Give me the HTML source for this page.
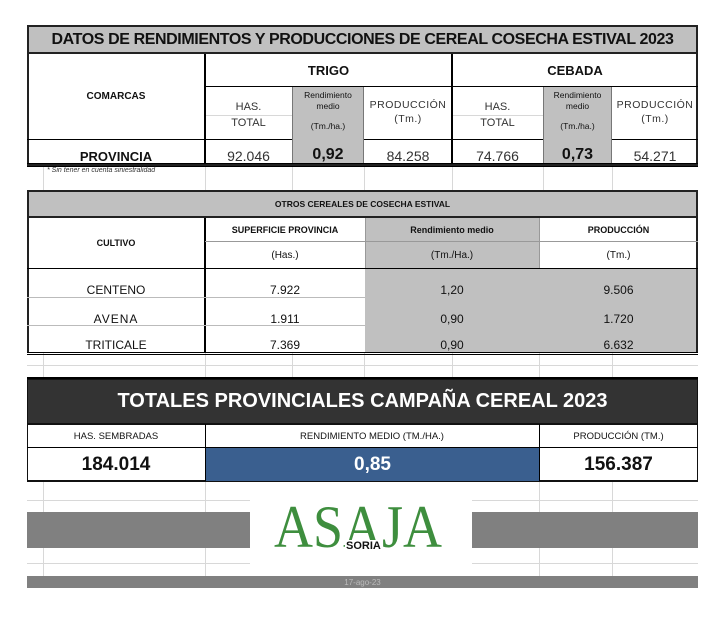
<!DOCTYPE html>
<html><head><meta charset="utf-8"><style>
body{margin:0;width:725px;height:624px;background:#fff;position:relative;font-family:"Liberation Sans",sans-serif;overflow:hidden}
div{position:absolute;box-sizing:border-box}
.c{display:flex;align-items:center;justify-content:center;text-align:center;color:#111;white-space:nowrap}
.g{background:#c0c0c0}
.vl{width:1px;background:#d8d8d8}
.hl{height:1px;background:#d8d8d8}
.bk{background:#000}
</style></head><body>
<div class="vl" style="left:205px;top:166px;height:24px"></div>
<div class="vl" style="left:292px;top:166px;height:24px"></div>
<div class="vl" style="left:364px;top:166px;height:24px"></div>
<div class="vl" style="left:452px;top:166px;height:24px"></div>
<div class="vl" style="left:543px;top:166px;height:24px"></div>
<div class="vl" style="left:612px;top:166px;height:24px"></div>
<div class="vl" style="left:43px;top:166px;height:24px"></div>
<div class="vl" style="left:43px;top:353px;height:24px"></div>
<div class="vl" style="left:205px;top:353px;height:24px"></div>
<div class="vl" style="left:292px;top:353px;height:24px"></div>
<div class="vl" style="left:364px;top:353px;height:24px"></div>
<div class="vl" style="left:452px;top:353px;height:24px"></div>
<div class="vl" style="left:539px;top:353px;height:24px"></div>
<div class="vl" style="left:612px;top:353px;height:24px"></div>
<div class="hl" style="left:27px;top:365px;width:671px"></div>
<div class="vl" style="left:43px;top:482px;height:94px"></div>
<div class="vl" style="left:205px;top:482px;height:94px"></div>
<div class="vl" style="left:539px;top:482px;height:94px"></div>
<div class="vl" style="left:612px;top:482px;height:94px"></div>
<div class="hl" style="left:27px;top:500px;width:671px"></div>
<div class="hl" style="left:27px;top:563px;width:671px"></div>

<div class="g c" style="left:27px;top:25px;width:671px;height:29px;border:2px solid #222;font-weight:bold;font-size:16px;letter-spacing:-0.4px">DATOS DE RENDIMIENTOS Y PRODUCCIONES DE CEREAL COSECHA ESTIVAL 2023</div>
<div style="left:27px;top:54px;width:671px;height:112px;border:2px solid #222;border-top:none"></div>
<div class="bk" style="left:27px;top:166px;width:671px;height:1px"></div>
<div class="bk" style="left:27px;top:163px;width:671px;height:1px"></div>
<div class="bk" style="left:204px;top:54px;width:2px;height:110px"></div>
<div class="bk" style="left:451px;top:54px;width:2px;height:110px"></div>
<div class="bk" style="left:205px;top:86px;width:493px;height:1px"></div>
<div class="bk" style="left:27px;top:139px;width:671px;height:1px"></div>
<div class="g" style="left:292px;top:87px;width:72px;height:76px;border-left:1px solid #777;border-right:1px solid #777"></div>
<div class="g" style="left:543px;top:87px;width:69px;height:76px;border-left:1px solid #777;border-right:1px solid #777"></div>
<div class="hl" style="left:206px;top:115px;width:86px"></div>
<div class="hl" style="left:453px;top:115px;width:90px"></div>
<div class="c" style="left:27px;top:54px;width:178px;height:85px;font-size:10px;font-weight:bold">COMARCAS</div>
<div class="c" style="left:205px;top:54px;width:247px;height:32px;font-size:13px;font-weight:bold">TRIGO</div>
<div class="c" style="left:452px;top:54px;width:246px;height:32px;font-size:13px;font-weight:bold">CEBADA</div>
<div class="c" style="left:205px;top:100px;width:87px;height:14px;font-size:11px;color:#333">HAS.</div>
<div class="c" style="left:205px;top:116px;width:87px;height:14px;font-size:11px;color:#333">TOTAL</div>
<div class="c" style="left:452px;top:100px;width:91px;height:14px;font-size:11px;color:#333">HAS.</div>
<div class="c" style="left:452px;top:116px;width:91px;height:14px;font-size:11px;color:#333">TOTAL</div>
<div class="c" style="left:292px;top:89px;width:72px;height:24px;font-size:8.5px;line-height:11px">Rendimiento<br>medio</div>
<div class="c" style="left:292px;top:120px;width:72px;height:12px;font-size:8.5px">(Tm./ha.)</div>
<div class="c" style="left:543px;top:89px;width:69px;height:24px;font-size:8.5px;line-height:11px">Rendimiento<br>medio</div>
<div class="c" style="left:543px;top:120px;width:69px;height:12px;font-size:8.5px">(Tm./ha.)</div>
<div class="c" style="left:364px;top:98px;width:88px;height:28px;font-size:10.5px;line-height:14px;letter-spacing:0.5px;color:#333">PRODUCCIÓN<br>(Tm.)</div>
<div class="c" style="left:612px;top:98px;width:86px;height:28px;font-size:10.5px;line-height:14px;letter-spacing:0.5px;color:#333">PRODUCCIÓN<br>(Tm.)</div>
<div class="c" style="left:27px;top:146px;width:178px;height:20px;font-size:13px;font-weight:bold">PROVINCIA</div>
<div class="c" style="left:205px;top:146px;width:87px;height:20px;font-size:14px;color:#333">92.046</div>
<div class="c" style="left:292px;top:145px;width:72px;height:20px;font-size:16px;font-weight:bold">0,92</div>
<div class="c" style="left:364px;top:146px;width:88px;height:20px;font-size:14px;color:#333">84.258</div>
<div class="c" style="left:452px;top:146px;width:91px;height:20px;font-size:14px;color:#333">74.766</div>
<div class="c" style="left:543px;top:145px;width:69px;height:20px;font-size:16px;font-weight:bold">0,73</div>
<div class="c" style="left:612px;top:146px;width:86px;height:20px;font-size:14px;color:#333">54.271</div>
<div style="left:47px;top:167px;font-size:7px;font-style:italic;color:#333">* Sin tener en cuenta siniestralidad</div>

<div class="g c" style="left:27px;top:190px;width:671px;height:28px;border:2px solid #222;font-size:8.5px;font-weight:bold">OTROS CEREALES DE COSECHA ESTIVAL</div>
<div style="left:27px;top:218px;width:671px;height:135px;border-left:2px solid #222;border-right:2px solid #222"></div>
<div class="g" style="left:365px;top:218px;width:174px;height:50px"></div>
<div class="g" style="left:365px;top:268px;width:331px;height:84px"></div>
<div class="bk" style="left:204px;top:218px;width:2px;height:134px"></div>
<div class="vl" style="left:365px;top:218px;height:50px;background:#999"></div>
<div class="vl" style="left:539px;top:218px;height:50px;background:#999"></div>
<div class="hl" style="left:205px;top:241px;width:493px;background:#999"></div>
<div class="bk" style="left:27px;top:268px;width:671px;height:1px"></div>
<div class="hl" style="left:27px;top:297px;width:338px;background:#bbb"></div>
<div class="hl" style="left:27px;top:325px;width:338px;background:#bbb"></div>
<div class="bk" style="left:27px;top:352px;width:671px;height:1px"></div>
<div class="bk" style="left:27px;top:354px;width:671px;height:1px"></div>
<div class="bk" style="left:27px;top:377px;width:671px;height:2px"></div>
<div class="c" style="left:27px;top:218px;width:178px;height:50px;font-size:9px;font-weight:bold">CULTIVO</div>
<div class="c" style="left:205px;top:220px;width:160px;height:20px;font-size:9px;font-weight:bold">SUPERFICIE PROVINCIA</div>
<div class="c" style="left:365px;top:220px;width:174px;height:20px;font-size:9px;font-weight:bold">Rendimiento medio</div>
<div class="c" style="left:539px;top:220px;width:159px;height:20px;font-size:9px;font-weight:bold">PRODUCCIÓN</div>
<div class="c" style="left:205px;top:244px;width:160px;height:22px;font-size:10px">(Has.)</div>
<div class="c" style="left:365px;top:244px;width:174px;height:22px;font-size:10px">(Tm./Ha.)</div>
<div class="c" style="left:539px;top:244px;width:159px;height:22px;font-size:10px">(Tm.)</div>
<div class="c" style="left:27px;top:282px;width:178px;height:16px;font-size:12px">CENTENO</div>
<div class="c" style="left:205px;top:282px;width:160px;height:16px;font-size:12px">7.922</div>
<div class="c" style="left:365px;top:282px;width:174px;height:16px;font-size:12px">1,20</div>
<div class="c" style="left:539px;top:282px;width:159px;height:16px;font-size:12px">9.506</div>
<div class="c" style="left:27px;top:311px;width:178px;height:16px;font-size:12px;letter-spacing:1px">AVENA</div>
<div class="c" style="left:205px;top:311px;width:160px;height:16px;font-size:12px">1.911</div>
<div class="c" style="left:365px;top:311px;width:174px;height:16px;font-size:12px">0,90</div>
<div class="c" style="left:539px;top:311px;width:159px;height:16px;font-size:12px">1.720</div>
<div class="c" style="left:27px;top:337px;width:178px;height:16px;font-size:12px">TRITICALE</div>
<div class="c" style="left:205px;top:337px;width:160px;height:16px;font-size:12px">7.369</div>
<div class="c" style="left:365px;top:337px;width:174px;height:16px;font-size:12px">0,90</div>
<div class="c" style="left:539px;top:337px;width:159px;height:16px;font-size:12px">6.632</div>

<div class="c" style="left:27px;top:379px;width:671px;height:45px;background:#333;color:#fff;font-size:20px;font-weight:bold;border:1px solid #111">TOTALES PROVINCIALES CAMPAÑA CEREAL 2023</div>
<div style="left:27px;top:424px;width:671px;height:58px;border:1px solid #111;border-bottom:2px solid #111"></div>
<div class="bk" style="left:205px;top:424px;width:1px;height:57px"></div>
<div class="bk" style="left:539px;top:424px;width:1px;height:57px"></div>
<div class="bk" style="left:27px;top:447px;width:671px;height:1px"></div>
<div style="left:206px;top:448px;width:333px;height:33px;background:#3a5f8f"></div>
<div class="c" style="left:27px;top:425px;width:178px;height:22px;font-size:9.5px">HAS. SEMBRADAS</div>
<div class="c" style="left:205px;top:425px;width:334px;height:22px;font-size:9.5px">RENDIMIENTO MEDIO (TM./HA.)</div>
<div class="c" style="left:539px;top:425px;width:159px;height:22px;font-size:9.5px">PRODUCCIÓN (TM.)</div>
<div class="c" style="left:27px;top:448px;width:178px;height:33px;font-size:19px;font-weight:bold">184.014</div>
<div class="c" style="left:206px;top:448px;width:333px;height:33px;font-size:19px;font-weight:bold;color:#fff">0,85</div>
<div class="c" style="left:539px;top:448px;width:159px;height:33px;font-size:19px;font-weight:bold">156.387</div>

<div style="left:27px;top:512px;width:223px;height:36px;background:#808080"></div>
<div style="left:472px;top:512px;width:226px;height:36px;background:#808080"></div>
<div style="left:250px;top:490px;width:222px;height:86px;background:#fff"></div>
<div style="left:274px;top:497px;font-family:'Liberation Serif',serif;font-size:60px;color:#3e8e3e;line-height:60px;white-space:nowrap;transform:scaleX(0.9);transform-origin:0 0">ASAJA</div>
<div style="left:345px;top:540px;font-size:11px;font-weight:bold;color:#111;background:#fff;padding:0 1px;line-height:13px">SORIA</div>
<div class="c" style="left:27px;top:576px;width:671px;height:12px;background:#808080;color:#bbb;font-size:8px">17-ago-23</div>
</body></html>
